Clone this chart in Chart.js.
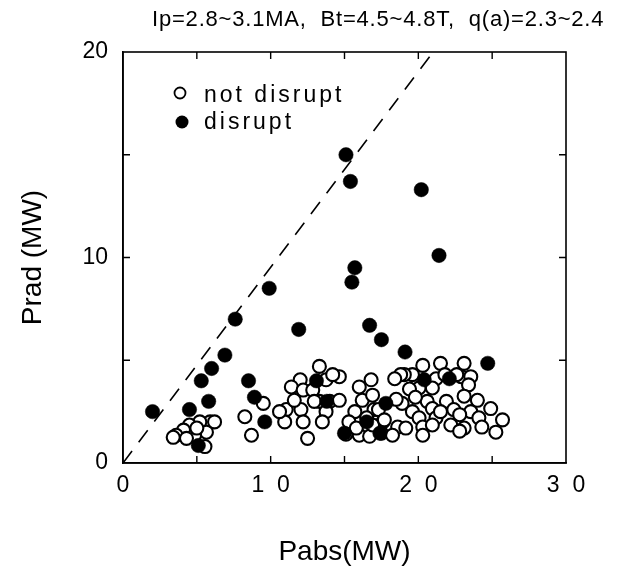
<!doctype html>
<html>
<head>
<title>Prad vs Pabs</title>
<script src="https://cdn.jsdelivr.net/npm/chart.js@4/dist/chart.umd.min.js"></script>
<style>
  html, body { margin: 0; padding: 0; background: #fff; }
  #holder { width: 620px; height: 571px; }
</style>
</head>
<body>
<div id="holder"><canvas id="chart"></canvas></div>
<script>
// values (Pabs MW, Prad MW)
var notDisruptX = [5.9, 5.2, 4.5, 4.1, 3.6, 5.65, 4.85, 4.3, 5.55, 3.4, 6.2, 5.0,
  8.25, 8.7, 9.5,
  13.3, 14.65, 12.0, 11.4, 12.2, 12.85, 13.75, 11.05, 12.05, 13.3, 14.0, 14.65, 13.75, 10.95, 12.2, 13.5, 12.5, 11.6, 12.95, 10.6, 14.2,
  16.0, 16.8, 16.2, 15.7, 17.0, 17.6, 16.0, 16.7, 17.5, 16.9, 16.5, 15.3, 15.1, 16.9, 17.3, 15.8,
  21.5, 23.1, 20.3, 19.6, 19.05, 21.2, 22.9, 23.55, 20.05, 20.95, 23.4, 18.9, 20.6, 21.9, 23.1, 24.0, 24.9, 19.6, 20.95, 22.4, 23.55,
  20.05, 21.2, 22.8, 24.1, 25.7, 17.7, 18.6, 19.15, 20.3, 20.95, 22.2, 23.1, 24.3, 25.25, 18.25, 20.3, 18.8, 18.4, 19.4, 22.6, 21.8,
  18.5, 19.8, 21.5, 22.8];
var notDisruptY = [2.0, 2.0, 1.85, 1.6, 1.35, 1.5, 1.35, 1.2, 0.8, 1.25, 2.0, 1.7,
  2.25, 1.35, 2.9,
  4.7, 4.2, 4.05, 3.7, 3.55, 3.55, 4.05, 2.6, 2.6, 3.0, 3.0, 3.05, 2.5, 2.0, 2.0, 2.0, 1.2, 3.05, 3.0, 2.5, 4.3,
  3.7, 4.05, 3.05, 2.5, 2.6, 2.0, 1.35, 1.3, 1.45, 1.85, 2.2, 2.0, 1.4, 3.3, 2.6, 1.7,
  4.85, 4.85, 4.75, 4.3, 4.3, 4.1, 4.2, 4.2, 3.65, 3.65, 3.8, 2.9, 3.0, 3.0, 3.25, 3.05, 2.65, 2.5, 2.65, 2.6, 2.5,
  2.2, 2.2, 2.35, 2.2, 2.1, 2.1, 1.75, 1.7, 1.75, 1.85, 1.85, 1.7, 1.75, 1.5, 1.35, 1.35, 4.3, 4.1, 3.6, 4.3, 4.3,
  3.1, 3.2, 2.5, 1.55];

var disruptX = [2.0, 4.5, 5.3, 6.0, 6.9, 7.6, 9.9, 11.9, 5.8, 5.1, 8.5, 8.9, 9.6,
  15.1, 15.4, 20.2, 21.4, 15.7, 15.5, 16.7, 17.5, 19.1, 24.7, 20.4, 22.1,
  17.8, 13.1, 16.5, 17.4, 15.0, 13.8];
var disruptY = [2.5, 2.6, 4.0, 4.6, 5.25, 7.0, 8.5, 6.5, 3.0, 0.85, 4.0, 3.2, 2.0,
  15.0, 13.7, 13.3, 10.1, 9.5, 8.8, 6.7, 6.0, 5.4, 4.85, 4.05, 4.1,
  2.9, 4.0, 2.0, 1.45, 1.45, 3.0];

// dashed guide line
var guideX = [0, 21];
var guideY = [0, 20];

var xTickLabels = { 0: '0', 10: '1  0', 20: '2  0', 30: '3  0' };
var yTickLabels = { 0: '0', 10: '10', 20: '20' };

var titleText = 'Ip=2.8~3.1MA,  Bt=4.5~4.8T,  q(a)=2.3~2.4';
var legendLabels = ['not disrupt', 'disrupt'];

function pts(xs, ys) {
  return xs.map(function (x, i) { return { x: x, y: ys[i] }; });
}

var FONT = "'Liberation Sans', Arial, Helvetica, sans-serif";

// frame, inward ticks, title, legend
var decor = {
  id: 'decor',
  afterDatasetsDraw: function (chart) {
    var ctx = chart.ctx, a = chart.chartArea;
    var xs = chart.scales.x, ys = chart.scales.y;
    ctx.save();
    ctx.strokeStyle = '#000';
    ctx.lineWidth = 1.6;
    ctx.strokeRect(a.left, a.top, a.right - a.left, a.bottom - a.top);
    ctx.lineWidth = 1.4;
    var t = 7;
    ctx.beginPath();
    for (var v = 5; v < 30; v += 5) {
      var px = xs.getPixelForValue(v);
      ctx.moveTo(px, a.bottom); ctx.lineTo(px, a.bottom - t);
      ctx.moveTo(px, a.top); ctx.lineTo(px, a.top + t);
    }
    for (var w = 5; w < 20; w += 5) {
      var py = ys.getPixelForValue(w);
      ctx.moveTo(a.left, py); ctx.lineTo(a.left + t, py);
      ctx.moveTo(a.right, py); ctx.lineTo(a.right - t, py);
    }
    ctx.stroke();

    // title
    ctx.fillStyle = '#000';
    ctx.font = '22px ' + FONT;
    ctx.letterSpacing = '0.8px';
    ctx.textAlign = 'left';
    ctx.textBaseline = 'alphabetic';
    ctx.fillText(titleText, 152, 26);

    // legend
    ctx.font = '23px ' + FONT;
    ctx.letterSpacing = '3px';
    ctx.fillText(legendLabels[0], 204, 102);
    ctx.fillText(legendLabels[1], 204, 129);
    ctx.letterSpacing = '0px';
    ctx.beginPath();
    ctx.arc(180, 93, 5.5, 0, Math.PI * 2);
    ctx.fillStyle = '#fff';
    ctx.fill();
    ctx.lineWidth = 1.8;
    ctx.stroke();
    ctx.beginPath();
    ctx.arc(182, 122, 6.5, 0, Math.PI * 2);
    ctx.fillStyle = '#000';
    ctx.fill();
    ctx.restore();
  }
};

var config = {
  type: 'scatter',
  data: {
    datasets: [{
      label: 'guide',
      type: 'line',
      data: pts(guideX, guideY),
      borderColor: '#000',
      borderWidth: 1.6,
      borderDash: [15, 11],
      pointRadius: 0,
      fill: false,
      order: 3
    }, {
      label: legendLabels[0],
      data: pts(notDisruptX, notDisruptY),
      pointRadius: 6.5,
      pointBorderWidth: 2.1,
      pointBackgroundColor: '#fff',
      pointBorderColor: '#000',
      order: 2
    }, {
      label: legendLabels[1],
      data: pts(disruptX, disruptY),
      pointRadius: 7.2,
      pointBorderWidth: 0.5,
      pointBackgroundColor: '#000',
      pointBorderColor: '#000',
      order: 1
    }]
  },
  options: {
    responsive: true,
    maintainAspectRatio: false,
    animation: false,
    layout: { padding: { top: 52, right: 54, left: 0, bottom: 0 } },
    plugins: {
      legend: { display: false },
      title: { display: false },
      tooltip: { enabled: false }
    },
    scales: {
      x: {
        type: 'linear',
        min: 0, max: 30,
        afterFit: function (s) { s.height = 108; },
        grid: { display: false, drawTicks: false },
        border: { display: true, color: '#000', width: 1.6 },
        ticks: {
          stepSize: 5,
          autoSkip: false,
          maxRotation: 0,
          padding: 9,
          color: '#000',
          font: { family: FONT, size: 23 },
          callback: function (v) { return xTickLabels[v] || ''; }
        },
        title: {
          display: true,
          text: 'Pabs(MW)',
          color: '#000',
          font: { family: FONT, size: 28 },
          padding: { top: 0, bottom: 2 }
        }
      },
      y: {
        type: 'linear',
        min: 0, max: 20,
        afterFit: function (s) { s.width = 123; },
        grid: { display: false, drawTicks: false },
        border: { display: true, color: '#000', width: 1.6 },
        ticks: {
          stepSize: 5,
          autoSkip: false,
          padding: 15,
          color: '#000',
          font: { family: FONT, size: 23 },
          callback: function (v) { return yTickLabels[v] || ''; }
        },
        title: {
          display: true,
          text: 'Prad (MW)',
          color: '#000',
          font: { family: FONT, size: 28 },
          padding: { top: 16, bottom: 0 }
        }
      }
    }
  },
  plugins: [decor]
};

window.onload = function () {
  var ctx = document.getElementById('chart').getContext('2d');
  window.myChart = new Chart(ctx, config);
};
</script>
</body>
</html>
